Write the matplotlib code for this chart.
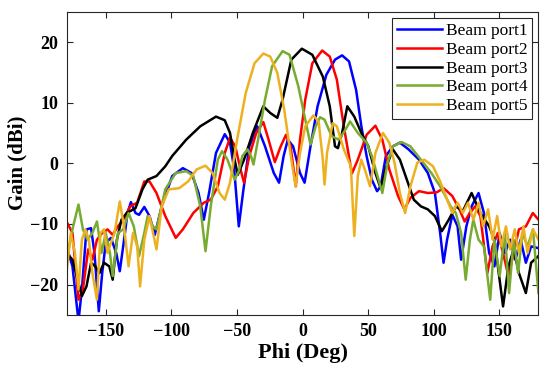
import matplotlib
matplotlib.use("Agg")
import matplotlib.pyplot as plt

# ---- data (Phi in deg, Gain in dBi) ----
p1_phi = [-180, -175.5, -170.9, -168.3, -164.8, -161.3, -158.7, -155.4, -152.8, -150.1, -146.1, -142.1, -139.4, -136.8,
          -133.5, -130.9, -127.4, -124.7, -120.7, -116.7, -112.7, -107.4, -99.4, -91.3, -84.7, -79.3, -75.3, -71.3,
          -66.0, -59.3, -55.3, -52.1, -48.6, -45.4, -40.6, -34.5, -28.6, -21.9, -17.9, -14.4, -11.2, -7.2, -1.9, 1.6,
          6.1, 11.5, 18.2, 24.8, 30.2, 35.5, 40.9, 44.9, 48.9, 52.9, 56.9, 59.6, 63.6, 68.9, 74.3, 80.9, 88.9, 95.6,
          101.0, 105.0, 107.6, 110.3, 114.3, 118.3, 121.0, 125.0, 129.0, 134.3, 138.4, 142.4, 146.4, 150.4, 154.4,
          158.4, 162.4, 166.4, 170.4, 174.4, 180]
p1_gain = [-13.7, -17.0, -26.0, -20.8, -10.9, -10.7, -14.8, -24.4, -18.1, -13.1, -12.3, -14.8, -17.8, -13.7,
           -8.2, -6.4, -8.2, -8.5, -7.2, -8.7, -11.8, -7.1, -2.1, -0.8, -1.6, -4.9, -9.3, -4.9,
           1.7, 4.8, 3.4, -1.0, -10.4, -4.9, 2.8, 6.1, 2.8, -1.6, -3.2, 1.2, 3.9, 2.8, -1.6, -3.2,
           2.8, 9.4, 14.6, 17.1, 17.8, 16.8, 12.1, 6.1, 1.2, -2.7, -4.6, -3.8, 1.2, 2.8, 3.4, 2.3, 0.6, -1.6,
           -4.9, -11.5, -16.4, -12.6, -8.5, -10.4, -15.9, -10.4, -7.1, -4.9, -8.2, -14.8, -17.0, -11.5, -14.8,
           -12.6, -15.9, -12.6, -16.4, -13.7, -14.0]

p2_phi = [-180, -175.5, -170.9, -167.5, -163.5, -160.3, -156.8, -152.8, -148.8, -144.8, -140.8, -136.8, -131.4,
          -126.1, -120.7, -116.7, -111.4, -104.7, -96.7, -91.3, -83.3, -75.3, -70.0, -64.6, -59.3, -55.3, -51.3,
          -47.3, -44.6, -40.6, -35.3, -29.9, -25.9, -21.1, -16.6, -12.6, -9.1, -5.1, -1.9, 2.1, 7.5, 15.0, 20.8,
          26.2, 31.5, 37.7, 42.2, 48.9, 55.6, 60.9, 66.2, 72.9, 77.7, 82.3, 88.9, 95.6, 102.3, 107.6, 114.3, 119.7,
          123.7, 127.7, 131.7, 135.7, 141.0, 145.0, 149.0, 153.0, 157.1, 161.1, 165.1, 170.4, 175.7, 180]
p2_gain = [-9.6, -11.5, -22.5, -20.8, -14.2, -15.9, -12.6, -11.5, -10.9, -11.8, -10.4, -9.3, -7.1,
           -6.5, -3.0, -3.0, -4.9, -8.7, -12.3, -10.9, -8.2, -6.5, -6.0, -3.8, 1.7, 4.2, 2.8,
           -1.0, -3.2, 1.2, 5.0, 6.8, 3.9, 0.2, 2.8, 4.7, 2.8, -3.8, 3.9, 10.5, 16.5, 18.6, 17.6,
           13.8, 6.1, -1.7, 0.6, 4.7, 6.2, 3.9, -1.0, -5.4, -7.6, -5.7, -4.6, -4.9, -4.8, -4.1, -5.4, -7.6,
           -9.6, -8.2, -7.1, -8.7, -18.1, -13.7, -11.5, -14.8, -18.6, -14.8, -10.9, -10.4, -8.2, -9.3]

p3_phi = [-180, -175.5, -171.5, -168.3, -164.8, -161.3, -158.1, -154.9, -151.4, -147.4, -144.8, -141.6, -138.1,
          -134.1, -127.4, -122.1, -118.1, -111.4, -104.7, -99.4, -88.7, -78.0, -66.0, -59.3, -55.3, -51.8, -49.4,
          -44.6, -37.9, -29.9, -24.6, -19.2, -15.2, -8.5, -0.5, 7.5, 15.5, 20.8, 24.8, 27.0, 30.2, 34.2, 39.5,
          44.9, 50.2, 55.6, 59.6, 63.6, 68.9, 74.3, 79.6, 84.9, 90.3, 95.6, 101.0, 106.3, 111.6, 117.0, 122.3,
          129.0, 135.7, 142.4, 146.4, 153.0, 157.1, 161.1, 165.1, 170.4, 174.4, 180]
p3_gain = [-14.8, -15.9, -19.2, -21.9, -20.3, -16.4, -17.0, -18.1, -16.4, -17.0, -19.2, -12.6, -9.3,
           -8.2, -7.4, -4.3, -2.7, -2.1, -0.5, 1.2, 3.9, 6.1, 7.7, 7.1, 5.0, 0.6, -1.9,
           0.6, 5.0, 9.4, 8.3, 7.5, 10.5, 17.1, 18.9, 17.9, 14.3, 9.4, 2.8, 2.5, 5.0, 9.4, 7.7,
           5.0, 2.8, -1.6, -4.1, -0.8, 2.3, 0.6, -2.7, -6.0, -7.1, -7.6, -8.7, -11.2, -9.3, -7.1, -7.9,
           -4.9, -8.2, -10.4, -12.6, -23.6, -17.0, -14.2, -18.1, -21.4, -16.4, -15.3]

p4_phi = [-180, -175.5, -170.9, -167.5, -164.0, -160.3, -156.8, -153.3, -150.1, -146.9, -144.8, -140.8, -136.8,
          -132.7, -128.7, -124.7, -120.7, -118.1, -114.1, -111.4, -104.7, -96.7, -88.7, -83.3, -78.0, -74.0, -70.0,
          -64.6, -61.4, -57.2, -51.8, -48.6, -45.9, -41.9, -39.3, -37.4, -33.9, -28.6, -23.2, -15.2, -9.9, -3.2,
          2.1, 6.1, 10.1, 13.4, 16.8, 22.2, 27.5, 32.1, 36.3, 42.2, 48.9, 52.9, 60.9, 64.9, 68.9, 75.6, 82.3,
          90.3, 98.3, 105.0, 109.0, 113.0, 117.0, 121.0, 124.5, 127.7, 130.3, 134.3, 138.4, 143.2, 146.4, 150.4,
          154.4, 157.6, 161.1, 164.5, 167.7, 171.7, 175.8, 180]
p4_gain = [-15.9, -10.9, -6.8, -10.9, -12.6, -11.5, -9.6, -14.8, -11.5, -14.8, -18.6, -11.5, -10.9,
           -8.2, -10.4, -15.3, -11.5, -8.7, -10.4, -10.9, -4.3, -1.6, -1.3, -2.1, -7.1, -14.5, -7.1,
           0.6, 2.0, 0.6, -2.7, -1.3, 1.2, 2.3, 1.2, -0.2, 3.9, 10.5, 16.0, 18.5, 17.9, 12.7,
           7.2, 3.1, 6.1, 7.6, 7.2, 4.5, 3.9, 5.3, 6.9, 5.0, 3.4, 1.2, -4.9, 0.1, 2.8, 3.5, 2.8,
           0.6, -1.6, -3.8, -5.4, -7.1, -8.2, -11.5, -19.2, -12.6, -9.3, -12.6, -13.7, -22.5, -12.6, -18.6,
           -11.5, -21.4, -12.6, -18.1, -11.5, -13.7, -10.9, -21.4]

p5_phi = [-180, -176.8, -173.6, -170.9, -168.3, -165.6, -163.0, -160.3, -156.8, -154.1, -151.4, -148.8, -146.1,
          -143.4, -139.4, -136.2, -132.7, -129.3, -126.1, -123.9, -120.7, -116.7, -111.4, -107.4, -102.0, -94.0,
          -87.3, -80.7, -74.0, -68.6, -63.3, -59.3, -55.3, -49.9, -43.3, -36.6, -29.9, -24.6, -19.2, -13.9, -8.5,
          -5.3, -1.9, 2.1, 8.3, 12.3, 15.5, 16.8, 18.7, 23.0, 26.2, 31.5, 36.9, 39.5, 42.2, 44.9, 47.5, 51.5,
          55.6, 61.4, 66.2, 70.2, 74.3, 78.3, 82.3, 87.6, 92.9, 99.6, 105.0, 110.3, 114.3, 118.3, 122.3, 126.3,
          130.3, 134.3, 137.8, 141.6, 145.0, 148.5, 151.7, 155.2, 158.4, 161.9, 165.1, 168.5, 171.7, 175.8, 180]
p5_gain = [-18.1, -11.5, -14.8, -20.8, -12.6, -10.9, -12.6, -18.1, -22.5, -11.5, -10.9, -14.8, -13.1,
           -11.5, -6.3, -10.4, -17.0, -11.5, -13.7, -20.3, -12.6, -8.7, -14.2, -7.1, -4.3, -4.1,
           -3.0, -1.0, -0.4, -1.6, -4.9, -6.0, -3.2, 3.9, 11.6, 16.5, 18.1, 17.6, 14.9, 8.8, 0.6,
           -3.8, 1.7, 6.1, 7.9, 6.9, 0.6, -3.5, 1.7, 6.6, 6.1, 2.3, -0.5, -12.0, -2.1, 0.6, -1.0, -3.8,
           1.7, 5.0, 3.4, 0.1, -4.9, -8.2, -3.8, 0.1, 0.6, -0.5, -3.0, -6.0, -8.2, -6.5, -8.2, -6.5,
           -9.3, -6.5, -10.4, -7.6, -12.6, -8.7, -13.7, -10.4, -14.2, -10.9, -14.8, -10.4, -14.8, -10.9, -12.6]

series_labels = ["Beam port1", "Beam port2", "Beam port3", "Beam port4", "Beam port5"]
series_colors = ["#0000FF", "#FF0000", "#000000", "#77AC30", "#EDB120"]
x_ticks = [-150, -100, -50, 0, 50, 100, 150]
y_ticks = [-20, -10, 0, 10, 20]

plt.rcParams['font.family'] = ['Liberation Serif', 'DejaVu Serif']

fig = plt.figure(figsize=(5.5, 3.78), dpi=100)
ax = fig.add_axes([0.121, 0.167, 0.858, 0.802])

data = [(p1_phi, p1_gain), (p2_phi, p2_gain), (p3_phi, p3_gain), (p4_phi, p4_gain), (p5_phi, p5_gain)]
for (xs, ys), lab, col in zip(data, series_labels, series_colors):
    ax.plot(xs, ys, color=col, lw=1.8, label=lab, solid_joinstyle='round')

ax.set_xlim(-180, 180)
ax.set_ylim(-25, 25)
ax.set_xticks(x_ticks)
ax.set_yticks(y_ticks)
ax.set_xticklabels([str(v).replace('-', '\u2212') for v in x_ticks], fontsize=13, fontweight='bold')
ax.set_yticklabels([str(v).replace('-', '\u2212') for v in y_ticks], fontsize=13, fontweight='bold')
ax.tick_params(direction='in', top=True, right=True, length=4, width=0.8, color='#262626', pad=6)
for s in ax.spines.values():
    s.set_color('#262626')
    s.set_linewidth(0.8)

ax.set_xlabel("Phi (Deg)", fontsize=16, fontweight='bold', labelpad=2)
ax.set_ylabel("Gain (dBi)", fontsize=15, fontweight='bold', labelpad=2)

leg = ax.legend(loc='upper right', fontsize=12.5, frameon=True, fancybox=False, edgecolor='#262626',
                handlelength=2.6, handletextpad=0.2, labelspacing=0.15, borderpad=0.3,
                borderaxespad=0.35, framealpha=1)
leg.get_frame().set_linewidth(0.8)

fig.savefig("out.png", dpi=100)
